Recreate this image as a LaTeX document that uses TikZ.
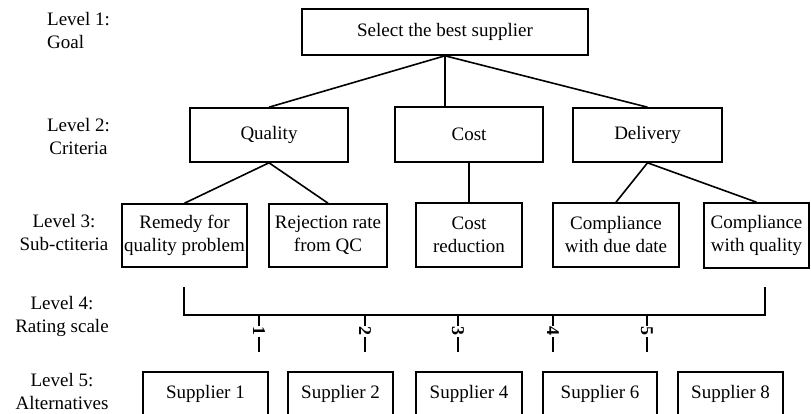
\documentclass[tikz,border=0pt]{standalone}
\usepackage{fontspec}
\setmainfont{Liberation Serif}
\newcommand{\fs}{\fontsize{19}{23}\selectfont}
\begin{document}
\begin{tikzpicture}[x=1pt,y=-1pt,
  box/.style={draw, line width=1.6pt, inner sep=0pt, align=center, font=\fs},
  lvl/.style={inner sep=0pt, font=\fs},
  conn/.style={line width=1.6pt},
  num/.style={fill=white, inner sep=1pt, rotate=-90, font=\fontsize{18}{20}\selectfont\bfseries}]
\useasboundingbox (0,0) rectangle (811,414);
% level labels
\node[lvl, anchor=west, align=left] (l1) at (47,30.5) {Level 1:\\Goal};
\node[lvl, align=center] (l2) at (78.5,136.5) {Level 2:\\Criteria};
\node[lvl, align=center] (l3) at (64,233) {Level 3:\\Sub-ctiteria};
\node[lvl, align=center] (l4) at (62,316) {Level 4:\\Rating scale};
\node[lvl, align=center] (l5) at (62,391) {Level 5:\\Alternatives};
% level 1
\node[box, minimum width=286, minimum height=46] (goal) at (445,32) {Select the best supplier};
% level 2
\node[box, minimum width=158, minimum height=54] (quality) at (269,135) {Quality};
\node[box, minimum width=148, minimum height=55] (cost) at (469,134.5) {Cost};
\node[box, minimum width=149, minimum height=54] (delivery) at (647.5,135) {Delivery};
% level 3
\node[box, minimum width=125, minimum height=63] (remedy) at (184.5,235.5) {Remedy for\\quality problem};
\node[box, minimum width=118, minimum height=63] (reject) at (328,235.5) {Rejection rate\\from QC};
\node[box, minimum width=106, minimum height=64] (costred) at (469,235) {Cost\\reduction};
\node[box, minimum width=126, minimum height=64] (duedate) at (616,235) {Compliance\\with due date};
\node[box, minimum width=105, minimum height=65] (compq) at (756.5,235.5) {Compliance\\with quality};
% level 5
\node[box, minimum width=125, minimum height=43] (s1) at (205.5,393.5) {Supplier 1};
\node[box, minimum width=105, minimum height=43] (s2) at (340.5,393.5) {Supplier 2};
\node[box, minimum width=106, minimum height=43] (s4) at (469,393.5) {Supplier 4};
\node[box, minimum width=114, minimum height=43] (s6) at (600,393.5) {Supplier 6};
\node[box, minimum width=105, minimum height=43] (s8) at (730.5,393.5) {Supplier 8};
% connectors level 1 -> 2
\draw[conn] (goal.south) -- (quality.north);
\draw[conn] (goal.south) -- (goal.south |- cost.north);
\draw[conn] (goal.south) -- (delivery.north);
% level 2 -> 3
\draw[conn] (quality.south) -- (remedy.north);
\draw[conn] (quality.south) -- (reject.north);
\draw[conn] (cost.south) -- (costred.north);
\draw[conn] (delivery.south) -- (duedate.north);
\draw[conn] (delivery.south) -- (compq.north);
% rating scale bracket
\coordinate (bl) at (184,287);
\coordinate (br) at (765,287);
\coordinate (bbl) at (184,315);
\coordinate (bbr) at (765,315);
\draw[conn] (bl) -- (bbl) -- (bbr) -- (br);
\foreach \x/\n in {259/1,365/2,458/3,553/4,647/5}{
  \coordinate (tt\n) at (\x,315);
  \coordinate (tb\n) at (\x,352);
  \draw[conn] (tt\n) -- (tb\n);
  \node[num] (t\n) at (\x,331) {\n};
}
\end{tikzpicture}
\end{document}
